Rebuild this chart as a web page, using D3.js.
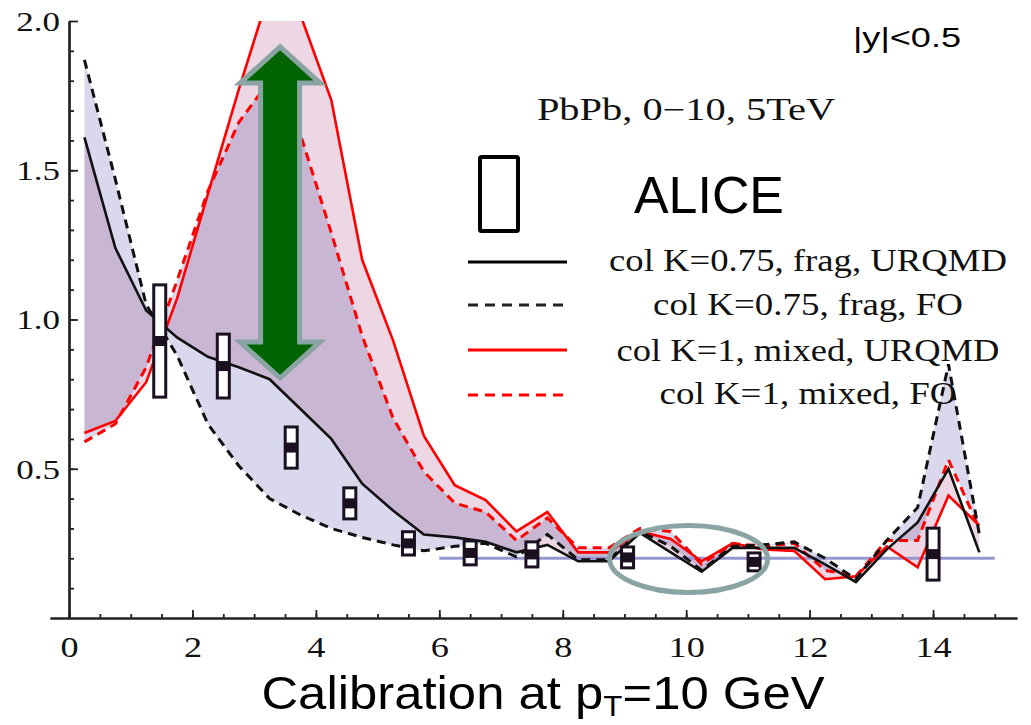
<!DOCTYPE html>
<html><head><meta charset="utf-8">
<script src="https://cdn.jsdelivr.net/npm/d3@7/dist/d3.min.js"></script>
<style>html,body{margin:0;padding:0;background:#fff;} svg{display:block;}</style>
</head><body><svg id="c" width="1031" height="725"></svg>
<script>
// ---- data ----
const pt = [0.25,0.75,1.25,1.75,2.25,2.75,3.25,3.75,4.25,4.75,5.25,5.75,6.25,6.75,7.25,7.75,8.25,8.75,9.25,9.75,10.25,10.75,11.25,11.75,12.25,12.75,13.25,13.75,14.25,14.75];
const fragURQMD  = [1.61,1.24,1.03,0.94,0.875,0.84,0.80,0.70,0.60,0.45,0.36,0.28,0.27,0.255,0.22,0.245,0.19,0.19,0.285,0.22,0.155,0.235,0.235,0.235,0.18,0.12,0.23,0.32,0.50,0.22];
const fragFO     = [1.87,1.47,1.05,0.88,0.65,0.51,0.40,0.345,0.30,0.27,0.245,0.225,0.24,0.25,0.205,0.28,0.195,0.195,0.29,0.24,0.16,0.24,0.245,0.255,0.20,0.13,0.26,0.37,0.85,0.28];
const mixedURQMD = [0.62,0.66,0.79,1.07,1.42,1.77,2.10,2.02,1.735,1.20,0.93,0.61,0.445,0.395,0.29,0.355,0.22,0.22,0.29,0.265,0.19,0.25,0.23,0.225,0.13,0.14,0.24,0.17,0.41,0.31];
const mixedFO    = [0.59,0.65,0.84,1.13,1.43,1.66,1.80,1.62,1.29,0.945,0.67,0.49,0.385,0.355,0.26,0.335,0.235,0.235,0.30,0.29,0.18,0.25,0.24,0.25,0.16,0.14,0.26,0.26,0.53,0.30];
const aliceX   = [1.47,2.5,3.6,4.55,5.5,6.5,7.5,9.05,11.1,14.0];
const aliceY   = [0.928,0.844,0.571,0.384,0.25,0.218,0.213,0.203,0.188,0.214];
const aliceSys = [0.188,0.107,0.069,0.052,0.039,0.040,0.042,0.035,0.030,0.087];
const refLevel = 0.2;
const refFrom = 6, refTo = 15;
const xTicks = [0,2,4,6,8,10,12,14];
const xTickLabels = ["0","2","4","6","8","10","12","14"];
const yTicks = [0.5,1.0,1.5,2.0];
const yTickLabels = ["0.5","1.0","1.5","2.0"];
const legendLabels = ["col K=0.75, frag, URQMD","col K=0.75, frag, FO","col K=1, mixed, URQMD","col K=1, mixed, FO"];
const legendWidths = [398,310,383,297];
const arrowAt = {x:3.42, top:1.913, topBase:1.792, botBase:0.925, bottom:0.804};
const ellipseAt = {x:10.04, y:0.198};

// ---- scales ----
const svg = d3.select("#c");
const W = 1031, H = 725;
const x = d3.scaleLinear().domain([-0.308, 15.36]).range([50, 1017]);
const y = d3.scaleLinear().domain([0, 2]).range([618, 21]);
const serif = "'Liberation Serif','Times New Roman',serif";
const sans = "'Liberation Sans',Arial,sans-serif";

svg.append("rect").attr("width",W).attr("height",H).attr("fill","#fff");
svg.append("defs").append("clipPath").attr("id","clip")
  .append("rect").attr("x",x.range()[0]).attr("y",y(2)).attr("width",x.range()[1]-x.range()[0]).attr("height",y(0)-y(2));

const plot = svg.append("g").attr("clip-path","url(#clip)");
const idx = d3.range(pt.length);

// fills
const bandFO = d3.area().x(i=>x(pt[i])).y0(i=>y(mixedFO[i])).y1(i=>y(fragFO[i]));
const bandUR = d3.area().x(i=>x(pt[i])).y0(i=>y(mixedURQMD[i])).y1(i=>y(fragURQMD[i]));
const fills = plot.append("g").style("isolation","isolate");
fills.append("path").datum(idx).attr("d",bandFO).attr("fill","rgb(217,216,236)");
fills.append("path").datum(idx).attr("d",bandUR).attr("fill","rgb(237,215,228)").style("mix-blend-mode","multiply");

// reference line
plot.append("line").attr("x1",x(refFrom)).attr("x2",x(refTo)).attr("y1",y(refLevel)).attr("y2",y(refLevel))
  .attr("stroke","rgb(150,150,208)").attr("stroke-width",3);

// axes
const axX = svg.append("g").attr("transform",`translate(0,${y(0)})`);
axX.call(d3.axisBottom(x).tickValues(d3.range(0,15.01,0.5)).tickSize(-4).tickSizeOuter(0).tickFormat(""));
axX.call(g=>g.append("g").call(d3.axisBottom(x).tickValues(xTicks).tickSize(-8).tickSizeOuter(0).tickFormat((d,i)=>xTickLabels[i])));
axX.selectAll("path.domain").attr("stroke","#222").attr("stroke-width",2.2);
axX.selectAll("line").attr("stroke","#222").attr("stroke-width",1.8);
axX.selectAll("text").attr("font-family",serif).attr("font-size",29).attr("fill","#111").attr("y",18).attr("dy","0.72em");
const axY = svg.append("g").attr("transform",`translate(${x(0)},0)`);
axY.call(d3.axisLeft(y).tickValues(d3.range(0.1,1.95,0.1)).tickSize(-5).tickSizeOuter(0).tickFormat(""));
axY.call(g=>g.append("g").call(d3.axisLeft(y).tickValues(yTicks).tickSize(-9).tickSizeOuter(0).tickFormat((d,i)=>yTickLabels[i])));
axY.selectAll("path.domain").attr("stroke","#222").attr("stroke-width",2.2);
axY.selectAll("line").attr("stroke","#222").attr("stroke-width",1.8);
axY.selectAll("text").attr("font-family",serif).attr("font-size",28).attr("fill","#111").attr("x",-9).attr("dy","0.33em");
svg.selectAll(".tick text").each(function(){ const w=this.getComputedTextLength(); d3.select(this).attr("textLength",w*1.25).attr("lengthAdjust","spacingAndGlyphs"); });

// curves
const line = v => d3.line().x(i=>x(pt[i])).y(i=>y(v[i]));
plot.append("path").datum(idx).attr("d",line(mixedFO)).attr("fill","none").attr("stroke","#ff0000").attr("stroke-width",3).attr("stroke-dasharray","9,6");
plot.append("path").datum(idx).attr("d",line(mixedURQMD)).attr("fill","none").attr("stroke","#ff0000").attr("stroke-width",2.6);
plot.append("path").datum(idx).attr("d",line(fragFO)).attr("fill","none").attr("stroke","#111").attr("stroke-width",3).attr("stroke-dasharray","9,6");
plot.append("path").datum(idx).attr("d",line(fragURQMD)).attr("fill","none").attr("stroke","#111").attr("stroke-width",2.6);

// ALICE boxes
const bw = 12;
const boxes = svg.append("g");
aliceX.forEach((px,i)=>{
  const cx = x(px), t = y(aliceY[i]+aliceSys[i]), b = y(aliceY[i]-aliceSys[i]);
  boxes.append("rect").attr("x",cx-bw/2).attr("y",t).attr("width",bw).attr("height",b-t)
    .attr("fill","#fff").attr("stroke","#1a1020").attr("stroke-width",3);
  boxes.append("rect").attr("x",cx-bw/2).attr("y",y(aliceY[i])-5).attr("width",bw).attr("height",10).attr("fill","#1a1020");
});

// arrow annotation
{
  const cx = x(arrowAt.x), sh = 19.5, hh = 40;
  const t = y(arrowAt.top), tb = y(arrowAt.topBase), bb = y(arrowAt.botBase), b = y(arrowAt.bottom);
  const p = `M${cx},${t} L${cx+hh},${tb} L${cx+sh},${tb} L${cx+sh},${bb} L${cx+hh},${bb} L${cx},${b} L${cx-hh},${bb} L${cx-sh},${bb} L${cx-sh},${tb} L${cx-hh},${tb} Z`;
  svg.append("path").attr("d",p).attr("fill","#006400").attr("stroke","rgb(138,163,163)").attr("stroke-width",5).attr("stroke-linejoin","miter");
}
// ellipse annotation
svg.append("ellipse").attr("cx",x(ellipseAt.x)).attr("cy",y(ellipseAt.y)).attr("rx",79).attr("ry",33.5)
  .attr("fill","none").attr("stroke","rgb(138,163,163)").attr("stroke-width",5);

// helper to stretch text to a target width
function fit(sel, target){
  const n = sel.node(); const w = n.getBBox().width;
  const ax = +sel.attr("x");
  sel.attr("transform",`translate(${ax},0) scale(${target/w},1) translate(${-ax},0)`);
}

// labels
fit(svg.append("text").attr("x",907).attr("y",47).attr("text-anchor","middle").attr("font-family",sans).attr("font-size",28).attr("fill","#000").text("|y|<0.5"),108);
fit(svg.append("text").attr("x",686).attr("y",120).attr("text-anchor","middle").attr("font-family",serif).attr("font-size",31).attr("fill","#111").text("PbPb, 0\u221210, 5TeV"),299);
svg.append("rect").attr("x",480).attr("y",157).attr("width",38).attr("height",74).attr("fill","none").attr("stroke","#000").attr("stroke-width",4).attr("rx",1.5);
fit(svg.append("text").attr("x",709).attr("y",213).attr("text-anchor","middle").attr("font-family",sans).attr("font-size",52).attr("fill","#000").text("ALICE"),150);

const legY = [262,305,350,395];
const legBase = [271,315,361,404];
const legStyle = [{c:"#000",d:null},{c:"#222",d:"10,7"},{c:"#ff0000",d:null},{c:"#ff0000",d:"10,7"}];
legendLabels.forEach((lab,i)=>{
  const l = svg.append("line").attr("x1",468).attr("x2",567).attr("y1",legY[i]).attr("y2",legY[i])
    .attr("stroke",legStyle[i].c).attr("stroke-width",3.2);
  if (legStyle[i].d) l.attr("stroke-dasharray",legStyle[i].d);
  fit(svg.append("text").attr("x",808).attr("y",legBase[i]).attr("text-anchor","middle").attr("font-family",serif)
    .attr("font-size",31).attr("fill","#111").text(lab), legendWidths[i]);
});

// axis title
{
  const t = svg.append("text").attr("x",543).attr("y",709).attr("text-anchor","middle").attr("font-family",sans).attr("font-size",47).attr("fill","#000");
  t.append("tspan").text("Calibration at p");
  t.append("tspan").attr("font-size",29).attr("dy",7).text("T");
  t.append("tspan").attr("dy",-7).text("=10 GeV");
  fit(t,564);
}
</script></body></html>
